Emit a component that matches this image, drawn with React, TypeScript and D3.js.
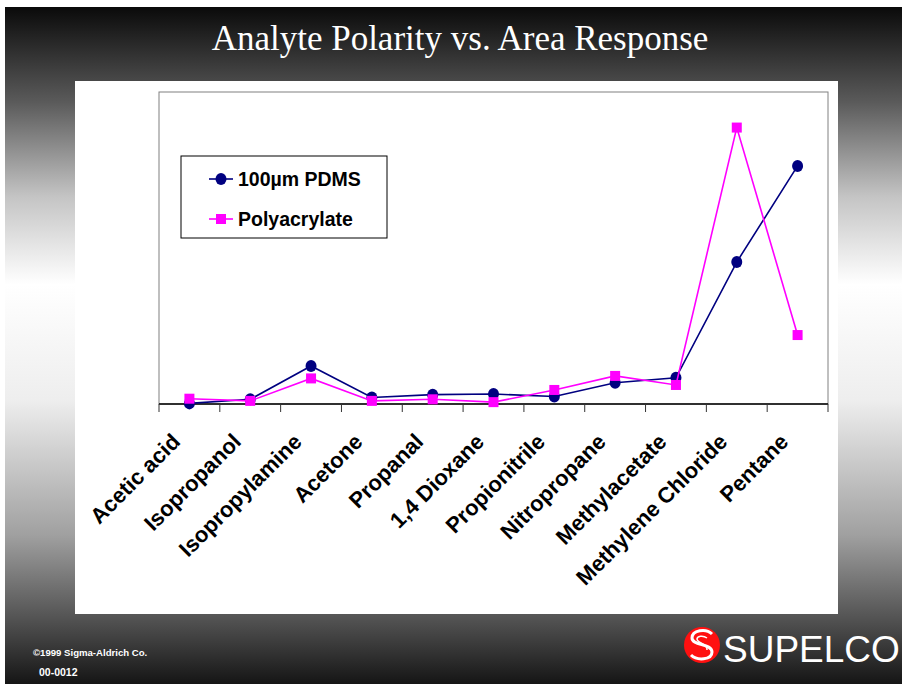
import * as d3 from "d3";

// analytes along the x axis
const categories = [
  "Acetic acid",
  "Isopropanol",
  "Isopropylamine",
  "Acetone",
  "Propanal",
  "1,4 Dioxane",
  "Propionitrile",
  "Nitropropane",
  "Methylacetate",
  "Methylene Chloride",
  "Pentane",
];

// area response (no axis scale shown, 0-100 arbitrary)
const pdmsValues = [0.2, 1.5, 12.2, 2.1, 3.0, 3.2, 2.4, 6.8, 8.4, 45.5, 76.3];
const polyValues = [1.7, 1.0, 8.2, 1.0, 1.5, 0.6, 4.5, 9.0, 6.1, 88.6, 22.1];

const seriesNames = ["100µm PDMS", "Polyacrylate"];

const W = 902;
const H = 685;
const PLOT = { left: 159, right: 828, top: 92, bottom: 404 };
const NAVY = "#000080";
const MAGENTA = "#FF00FF";
const SANS = "'Liberation Sans', Arial, sans-serif";

const Chart = () => {
  const xScale = d3
    .scaleBand<string>()
    .domain(categories)
    .range([PLOT.left, PLOT.right]);
  const yScale = d3.scaleLinear().domain([0, 100]).range([PLOT.bottom, PLOT.top]);
  const cx = (c: string) => (xScale(c) ?? 0) + xScale.bandwidth() / 2;

  const lineBuilder = d3
    .line<number>()
    .x((_, i) => cx(categories[i]))
    .y((d) => yScale(d));

  const tickXs = [...categories.map((c) => xScale(c) ?? 0), PLOT.right];

  return (
    <svg
      width={W}
      height={H}
      style={{ position: "absolute", left: 0, top: 0, display: "block" }}
    >
      <defs>
        <linearGradient id="bg" x1="0" y1="0" x2="0" y2="1">
          <stop offset="0" stopColor="#0a0a0a" />
          <stop offset="0.14" stopColor="#5a5a5a" />
          <stop offset="0.28" stopColor="#c4c4c4" />
          <stop offset="0.41" stopColor="#ffffff" />
          <stop offset="0.58" stopColor="#eeeeee" />
          <stop offset="0.78" stopColor="#a0a0a0" />
          <stop offset="0.9" stopColor="#555555" />
          <stop offset="1" stopColor="#151515" />
        </linearGradient>
      </defs>
      <rect x={0} y={0} width={W} height={H} fill="#fff" />
      <rect x={5} y={7} width={W - 5} height={677} fill="url(#bg)" />

      <text
        x={460}
        y={50}
        fill="#fff"
        fontFamily="'Liberation Serif', 'Times New Roman', serif"
        fontSize={35}
        textAnchor="middle"
      >
        Analyte Polarity vs. Area Response
      </text>

      {/* white chart panel */}
      <rect x={75} y={81} width={763} height={533} fill="#fff" />

      {/* plot area border */}
      <rect
        x={PLOT.left}
        y={PLOT.top}
        width={PLOT.right - PLOT.left}
        height={PLOT.bottom - PLOT.top}
        fill="none"
        stroke="#808080"
        strokeWidth={1}
      />
      <line
        x1={PLOT.left}
        x2={PLOT.right}
        y1={PLOT.bottom}
        y2={PLOT.bottom}
        stroke="#000"
        strokeWidth={1.5}
      />
      {tickXs.map((tx, i) => (
        <line
          key={i}
          x1={tx}
          x2={tx}
          y1={PLOT.bottom}
          y2={PLOT.bottom + 8}
          stroke="#333"
          strokeWidth={1}
        />
      ))}

      {categories.map((c) => (
        <text
          key={c}
          transform={`translate(${cx(c) - 8},${443}) rotate(-45)`}
          textAnchor="end"
          fontFamily={SANS}
          fontWeight="bold"
          fontSize={22}
          fill="#000"
        >
          {c}
        </text>
      ))}

      {/* PDMS series */}
      <path d={lineBuilder(pdmsValues) ?? ""} fill="none" stroke={NAVY} strokeWidth={1.6} />
      {pdmsValues.map((v, i) => (
        <ellipse key={i} cx={cx(categories[i])} cy={yScale(v)} rx={5.5} ry={6} fill={NAVY} />
      ))}

      {/* Polyacrylate series */}
      <path d={lineBuilder(polyValues) ?? ""} fill="none" stroke={MAGENTA} strokeWidth={1.6} />
      {polyValues.map((v, i) => (
        <rect
          key={i}
          x={cx(categories[i]) - 5}
          y={yScale(v) - 5}
          width={10}
          height={10}
          fill={MAGENTA}
        />
      ))}

      {/* legend */}
      <g>
        <rect x={181} y={156} width={206} height={82} fill="#fff" stroke="#000" strokeWidth={1} />
        {seriesNames.map((name, i) => {
          const ly = 179 + i * 40;
          const color = i === 0 ? NAVY : MAGENTA;
          return (
            <g key={name}>
              <line x1={209} x2={233} y1={ly} y2={ly} stroke={color} strokeWidth={1.6} />
              {i === 0 ? (
                <ellipse cx={221} cy={ly} rx={5.5} ry={6} fill={color} />
              ) : (
                <rect x={216} y={ly - 5} width={10} height={10} fill={color} />
              )}
              <text
                x={238}
                y={ly + 7}
                fontFamily={SANS}
                fontWeight="bold"
                fontSize={19.5}
                fill="#000"
              >
                {name}
              </text>
            </g>
          );
        })}
      </g>

      {/* footer */}
      <text x={33} y={656} fill="#fff" fontFamily={SANS} fontWeight="bold" fontSize={9.6}>
        ©1999 Sigma-Aldrich Co.
      </text>
      <text x={39} y={676} fill="#fff" fontFamily={SANS} fontWeight="bold" fontSize={10.5}>
        00-0012
      </text>

      {/* SUPELCO logo */}
      <g>
        <ellipse cx={702} cy={645} rx={18} ry={18} fill="#ff1010" />
        <path
          d="M712,634 C706,628 692,630 692,638 C692,646 712,643 712,652 C712,660 697,661 691,655"
          fill="none"
          stroke="#fff"
          strokeWidth={3}
        />
        <path
          d="M707,638 C703,635 697,636 697,639 C697,643 708,644 707,650"
          fill="none"
          stroke="#fff"
          strokeWidth={1.5}
        />
      </g>
      <text x={723} y={662} fill="#fff" fontFamily={SANS} fontSize={37}>
        SUPELCO
      </text>
    </svg>
  );
};

export default function App() {
  return <Chart />;
}
